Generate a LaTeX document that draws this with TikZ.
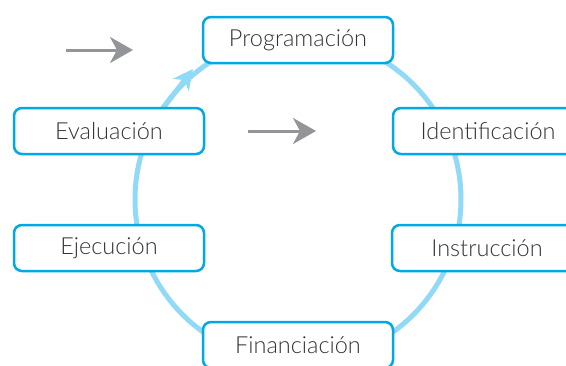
\documentclass[tikz,border=0pt]{standalone}
\usepackage{fontspec}
\setmainfont{Lato}[UprightFont=* Light]
\usetikzlibrary{arrows.meta}
\definecolor{boxblue}{HTML}{00A9E6}
\definecolor{ringblue}{HTML}{90D9F7}
\definecolor{arrowgray}{HTML}{939598}
\definecolor{textgray}{HTML}{333333}

\begin{document}
\begin{tikzpicture}[x=1pt,y=-1pt,
  stage/.style={draw=boxblue,line width=2.5pt,fill=white,rounded corners=8pt,
    minimum width=190pt,minimum height=46pt,inner sep=0pt,
    text=textgray,font=\fontsize{23.5}{26}\selectfont},
  ring/.style={draw=ringblue,line width=5pt},
  pointer/.style={draw=arrowgray,line width=3pt,
    -{Stealth[length=23pt,width=26pt,inset=7pt]}}]
  \useasboundingbox (0,0) rectangle (566,365);

  %ring of the cycle
  \coordinate (hub) at (298,199.5);
  \draw[ring] (hub) circle[radius=163pt];
  \coordinate (tip) at (193,69);
  \draw[ring,-{Stealth[length=20pt,width=20pt,inset=6pt]}]
    ([shift={(146:163pt)}]hub) -- (tip);

  %stages
  \node[stage] (prog) at (298,40) {Programación};
  \node[stage] (iden) at (488,131) {Identificación};
  \node[stage] (inst) at (487,248) {Instrucción};
  \node[stage] (fina) at (298,345) {Financiación};
  \node[stage] (ejec) at (109,248) {Ejecución};
  \node[stage] (eval) at (109,131) {Evaluación};

  %loose grey arrows
  \coordinate (g1) at (66,50);
  \coordinate (g2) at (133,50);
  \draw[pointer] (g1) -- (g2);
  \coordinate (g3) at (248,131);
  \coordinate (g4) at (316,131);
  \draw[pointer] (g3) -- (g4);
\end{tikzpicture}
\end{document}
